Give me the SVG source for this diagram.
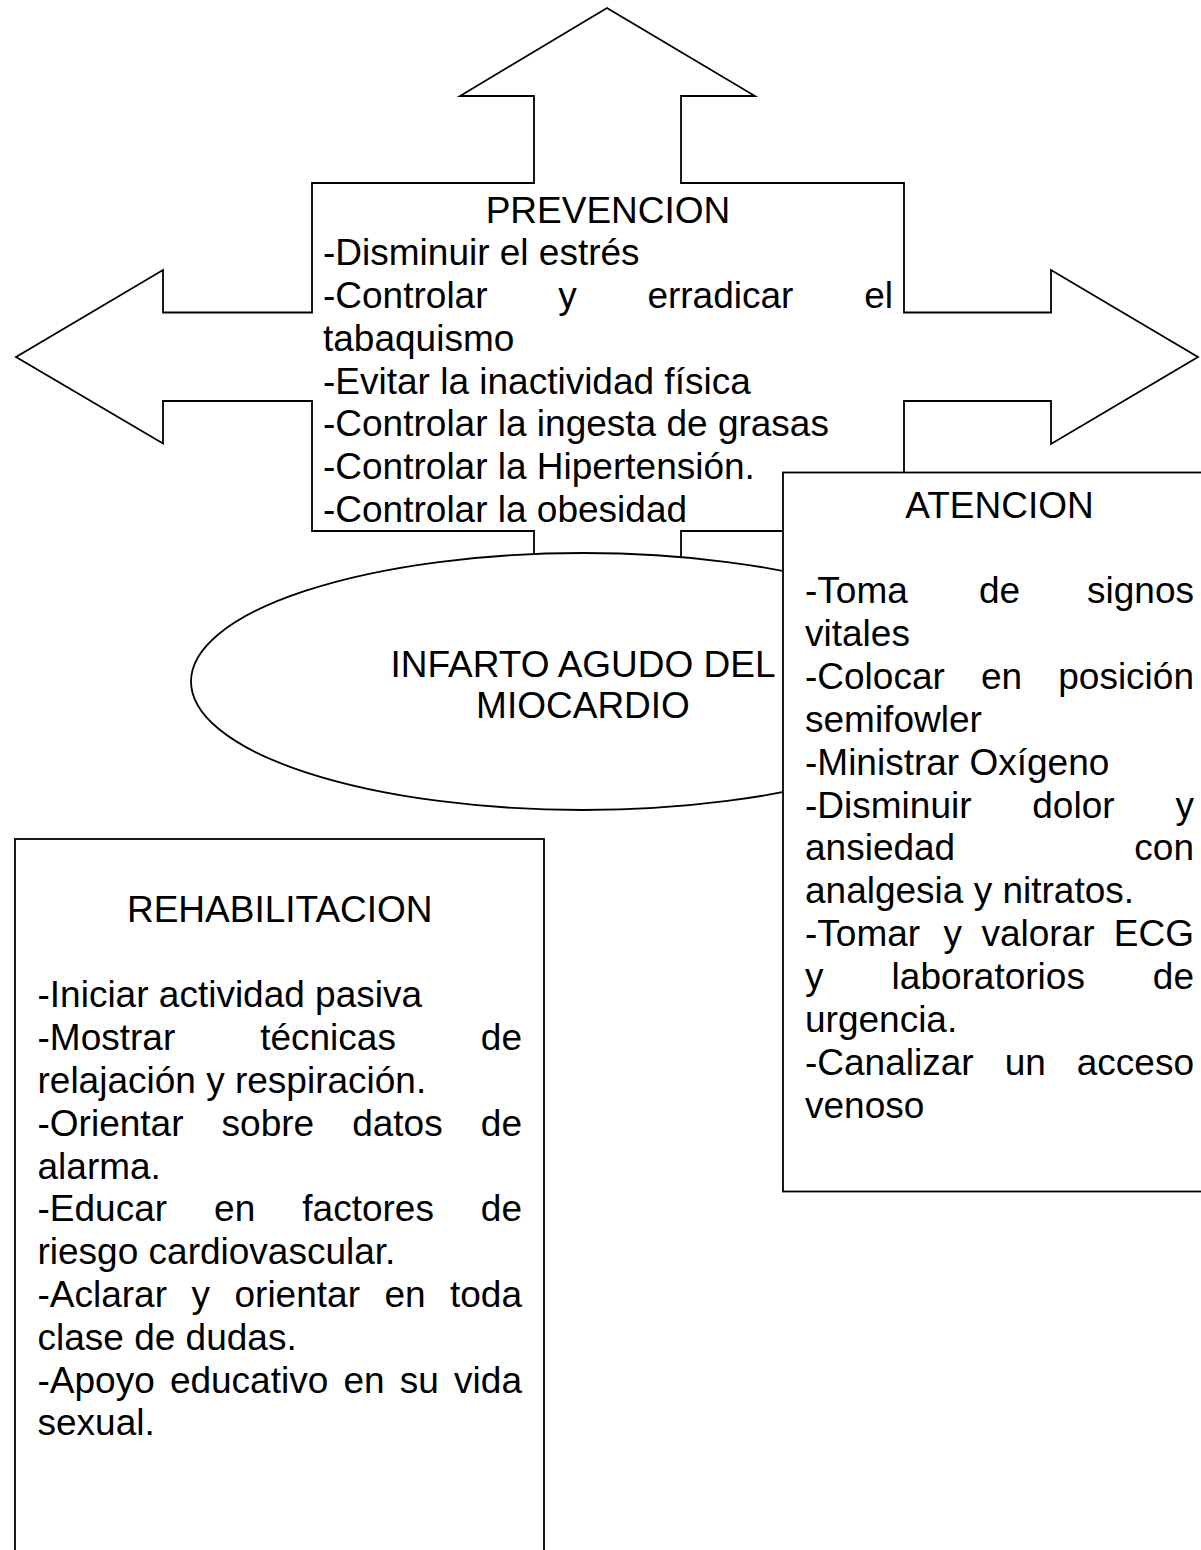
<svg xmlns="http://www.w3.org/2000/svg" width="1201" height="1550" viewBox="0 0 1201 1550">
<style>
.shape{fill:#fff;stroke:#000;stroke-width:1.8;stroke-linejoin:miter}
text{font-family:"Liberation Sans",Arial,sans-serif;font-size:37px;fill:#000}
.c{text-anchor:middle}
.r{text-anchor:end}
</style>
<rect x="0" y="0" width="1201" height="1550" fill="#fff"/>
<g id="connectors"></g>
<g id="node-prevencion">
<path class="shape" d="M607,8 L755,96 L681,96 L681,183 L904,183 L904,312.5 L1051,312.5 L1051,270 L1198,357 L1051,444 L1051,401 L904,401 L904,531 L681,531 L681,600 L534,600 L534,531 L312,531 L312,401 L163,401 L163,443.5 L16,357 L163,270 L163,312.5 L312,312.5 L312,183 L534,183 L534,96 L460,96 Z"/>
<text class="c" x="608" y="222.5">PREVENCION</text>
<text x="323" y="265.25">-Disminuir el estrés</text>
<text y="308"><tspan x="323">-Controlar</tspan><tspan x="558.2">y</tspan><tspan x="647.4">erradicar</tspan></text>
<text class="r" x="893" y="308">el</text>
<text x="323" y="350.75">tabaquismo</text>
<text x="323" y="393.5">-Evitar la inactividad física</text>
<text x="323" y="436.25">-Controlar la ingesta de grasas</text>
<text x="323" y="479">-Controlar la Hipertensión.</text>
<text x="323" y="521.75">-Controlar la obesidad</text>
</g>
<g id="node-infarto">
<ellipse class="shape" cx="583" cy="681.5" rx="392" ry="128.5"/>
<text class="c" x="583" y="676.7">INFARTO AGUDO DEL</text>
<text class="c" x="583" y="718.3">MIOCARDIO</text>
</g>
<g id="node-atencion">
<rect class="shape" x="783" y="472.5" width="440" height="719"/>
<text class="c" x="999.5" y="517.5">ATENCION</text>
<text y="603"><tspan x="805">-Toma</tspan><tspan x="978.9">de</tspan></text>
<text class="r" x="1194" y="603">signos</text>
<text x="805" y="645.9">vitales</text>
<text y="688.8"><tspan x="805">-Colocar</tspan><tspan x="981">en</tspan></text>
<text class="r" x="1194" y="688.8">posición</text>
<text x="805" y="731.7">semifowler</text>
<text x="805" y="774.6">-Ministrar Oxígeno</text>
<text y="817.5"><tspan x="805">-Disminuir</tspan><tspan x="1032.3">dolor</tspan></text>
<text class="r" x="1194" y="817.5">y</text>
<text x="805" y="860.4">ansiedad</text>
<text class="r" x="1194" y="860.4">con</text>
<text x="805" y="903.3">analgesia y nitratos.</text>
<text y="946.2"><tspan x="805">-Tomar</tspan><tspan x="943.5">y</tspan><tspan x="981.4">valorar</tspan></text>
<text class="r" x="1194" y="946.2">ECG</text>
<text y="989.1"><tspan x="805">y</tspan><tspan x="891.6">laboratorios</tspan></text>
<text class="r" x="1194" y="989.1">de</text>
<text x="805" y="1032">urgencia.</text>
<text y="1074.9"><tspan x="805">-Canalizar</tspan><tspan x="1004.7">un</tspan></text>
<text class="r" x="1194" y="1074.9">acceso</text>
<text x="805" y="1117.8">venoso</text>
</g>
<g id="node-rehabilitacion">
<rect class="shape" x="15" y="839" width="529" height="740"/>
<text class="c" x="279.75" y="922">REHABILITACION</text>
<text x="37.5" y="1007.3">-Iniciar actividad pasiva</text>
<text y="1050.1"><tspan x="37.5">-Mostrar</tspan><tspan x="260.2">técnicas</tspan></text>
<text class="r" x="522" y="1050.1">de</text>
<text x="37.5" y="1092.9">relajación y respiración.</text>
<text y="1135.7"><tspan x="37.5">-Orientar</tspan><tspan x="221.6">sobre</tspan><tspan x="352.2">datos</tspan></text>
<text class="r" x="522" y="1135.7">de</text>
<text x="37.5" y="1178.5">alarma.</text>
<text y="1221.3"><tspan x="37.5">-Educar</tspan><tspan x="214.1">en</tspan><tspan x="302.3">factores</tspan></text>
<text class="r" x="522" y="1221.3">de</text>
<text x="37.5" y="1264.1">riesgo cardiovascular.</text>
<text y="1306.9"><tspan x="37.5">-Aclarar</tspan><tspan x="191.5">y</tspan><tspan x="234.5">orientar</tspan><tspan x="384.4">en</tspan></text>
<text class="r" x="522" y="1306.9">toda</text>
<text x="37.5" y="1349.7">clase de dudas.</text>
<text y="1392.5"><tspan x="37.5">-Apoyo</tspan><tspan x="169.9">educativo</tspan><tspan x="343.5">en</tspan><tspan x="399.8">su</tspan></text>
<text class="r" x="522" y="1392.5">vida</text>
<text x="37.5" y="1435.3">sexual.</text>
</g>
</svg>
